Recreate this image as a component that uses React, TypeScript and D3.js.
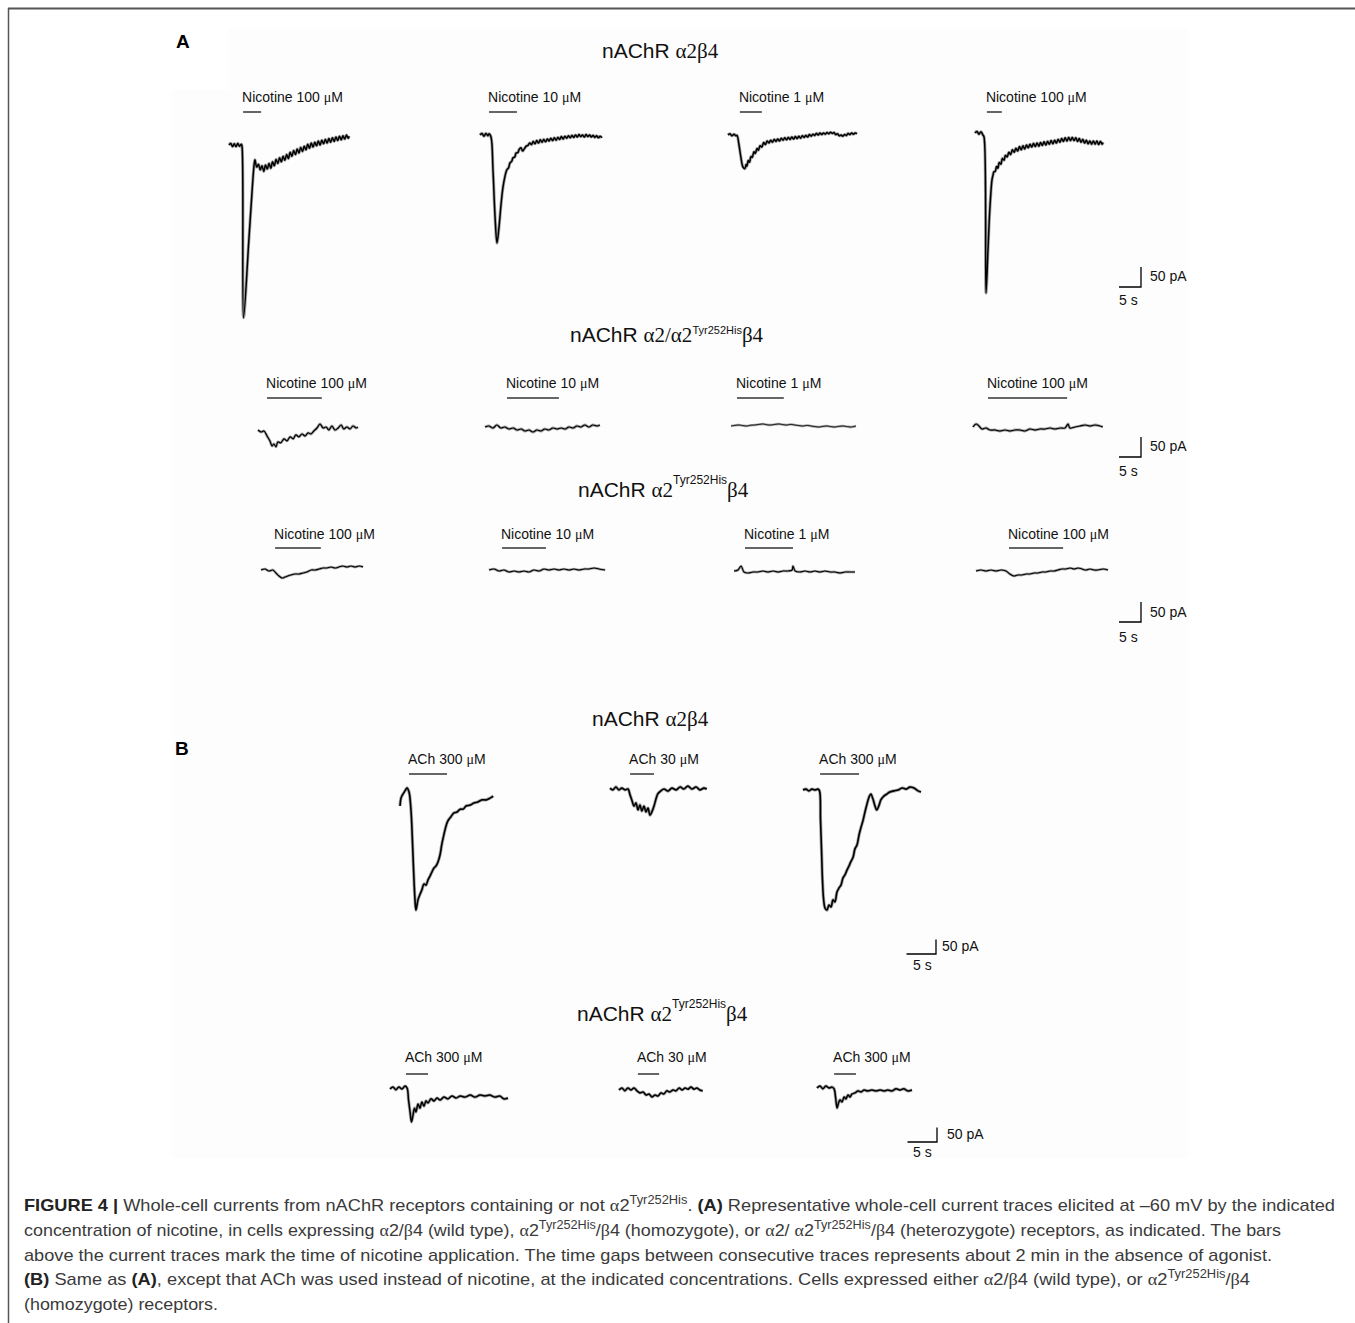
import React from 'react';
import * as d3 from 'd3';

type Pt = [number, number];

// ---------- DATA (time in s from trace start, current in pA) ----------
// Panel A, nAChR α2β4
const a1Nic100a: Pt[] = [[0,0],[0.4,4],[0.8,-4],[1.2,3],[1.6,-4],[2.0,4],[2.4,-3],[2.8,2],[2.95,-2],[3.3,-432],[4.5,-240],[5.4,-90],[5.75,-45],[5.9,-37],[6.3,-55],[6.7,-48],[7.1,-62],[7.5,-52],[7.9,-66],[8.3,-50],[8.7,-60],[9.1,-46],[9.5,-58],[9.9,-42],[10.3,-52],[10.7,-36],[11.1,-46],[11.5,-32],[11.9,-42],[12.3,-28],[12.7,-38],[13.1,-24],[13.5,-34],[13.9,-18],[14.3,-28],[14.7,-14],[15.1,-24],[15.5,-10],[15.9,-20],[16.3,-6],[16.7,-16],[17.1,-3],[17.5,-12],[17.9,2],[18.3,-8],[18.7,5],[19.1,-5],[19.5,7],[19.9,-2],[20.3,10],[20.7,0],[21.1,12],[21.5,3],[21.9,14],[22.3,5],[22.7,16],[23.1,7],[23.5,18],[23.9,9],[24.3,20],[24.7,11],[25.1,22],[25.5,13],[25.9,23],[26.3,15],[26.7,25],[27.1,17],[27.3,22]];
const a1Nic10: Pt[] = [[0,0],[0.45,4],[0.9,-3],[1.35,4],[1.8,-2],[2.05,3],[2.5,-5],[2.95,-87],[3.4,-200],[3.86,-270],[4.3,-232],[4.77,-175],[5.2,-132],[5.7,-102],[6.1,-87],[6.5,-82],[6.8,-70],[7.2,-66],[7.5,-57],[7.9,-55],[8.2,-45],[8.6,-44],[8.9,-36],[9.3,-32],[9.7,-40],[10.1,-34],[10.5,-28],[10.9,-26],[11.3,-20],[11.7,-24],[12.1,-16],[12.5,-22],[12.9,-14],[13.3,-20],[13.7,-12],[14.1,-18],[14.5,-11],[14.9,-17],[15.3,-10],[15.7,-15],[16.1,-8],[16.5,-14],[16.9,-7],[17.3,-13],[17.7,-6],[18.1,-11],[18.5,-4],[18.9,-10],[19.3,-3],[19.7,-8],[20.1,-2],[20.5,-7],[20.9,-1],[21.3,-6],[21.7,0],[22.1,-5],[22.5,1],[22.9,-4],[23.3,0],[23.7,-5],[24.1,1],[24.5,-4],[24.9,0],[25.3,-5],[25.7,-1],[26.1,-6],[26.5,-2],[26.9,-7],[27.3,-3],[27.7,-7]];
const a1Nic1: Pt[] = [[0,0],[0.45,3],[0.9,-2],[1.36,2],[1.8,-2],[2.05,-1],[2.5,-25],[2.95,-57],[3.4,-80],[3.86,-84],[4.1,-74],[4.3,-78],[4.6,-64],[4.9,-68],[5.2,-54],[5.5,-56],[5.9,-42],[6.2,-46],[6.6,-34],[6.9,-38],[7.3,-27],[7.7,-30],[8.1,-19],[8.5,-24],[8.9,-15],[9.3,-20],[9.7,-13],[10.1,-18],[10.5,-11],[10.9,-16],[11.3,-10],[11.7,-15],[12.1,-8],[12.5,-13],[12.9,-7],[13.3,-12],[13.7,-6],[14.1,-11],[14.5,-5],[14.9,-10],[15.3,-4],[15.7,-9],[16.1,-3],[16.5,-8],[16.9,-2],[17.3,-6],[17.7,-1],[18.1,-5],[18.5,1],[18.9,-3],[19.3,2],[19.7,-1],[20.1,4],[20.5,0],[20.9,5],[21.3,1],[21.7,5],[22.1,2],[22.5,6],[22.9,3],[23.3,7],[23.7,4],[24.1,6],[24.5,1],[24.9,3],[25.3,-2],[25.7,0],[26.1,-3],[26.5,1],[26.9,-1],[27.3,4],[27.7,1],[28.1,5],[28.5,2],[28.9,5],[29.3,3]];
const a1Nic100b: Pt[] = [[0,0],[0.45,4],[0.9,-3],[1.36,3],[1.8,-5],[2.05,-10],[2.5,-400],[2.95,-292],[3.4,-185],[3.86,-117],[4.1,-105],[4.3,-97],[4.6,-96],[4.9,-84],[5.2,-88],[5.5,-74],[5.9,-78],[6.2,-64],[6.6,-68],[6.9,-56],[7.3,-60],[7.7,-48],[8.1,-54],[8.5,-42],[8.9,-48],[9.3,-38],[9.7,-45],[10.1,-34],[10.5,-42],[10.9,-32],[11.3,-40],[11.7,-30],[12.1,-37],[12.5,-28],[12.9,-35],[13.3,-26],[13.7,-34],[14.1,-25],[14.5,-33],[14.9,-24],[15.3,-31],[15.7,-22],[16.1,-30],[16.5,-21],[16.9,-28],[17.3,-19],[17.7,-27],[18.1,-18],[18.5,-25],[18.9,-16],[19.3,-23],[19.7,-14],[20.1,-21],[20.5,-12],[20.9,-20],[21.3,-11],[21.7,-19],[22.1,-11],[22.5,-19],[22.9,-12],[23.3,-21],[23.7,-14],[24.1,-23],[24.5,-16],[24.9,-25],[25.3,-18],[25.7,-27],[26.1,-20],[26.5,-28],[26.9,-20],[27.3,-28],[27.7,-20],[28.1,-29],[28.5,-21],[28.9,-28],[29.1,-24]];

// Panel A, nAChR α2/α2Tyr252His β4
const a2Nic100a: Pt[] = [[0,0],[0.7,-5],[1.36,-2.5],[2.05,-15],[2.7,-27],[3.2,-40],[3.6,-35],[4.1,-42],[4.5,-30],[5.2,-32],[5.9,-22],[6.6,-27],[7.3,-17],[8.0,-22],[8.6,-12],[9.3,-17],[10.0,-10],[10.7,-15],[11.4,-7],[12.0,-10],[12.7,-2.5],[13.4,5],[14.1,15],[14.8,5],[15.5,7.5],[16.1,0],[16.8,10],[17.5,0],[18.2,5],[18.9,12.5],[19.5,2.5],[20.2,7.5],[20.9,2.5],[21.6,10],[22.3,5],[22.7,7.5]];
const a2Nic10: Pt[] = [[0,0],[0.9,2.5],[1.8,-2.5],[2.7,5],[3.6,-2.5],[4.5,0],[5.45,-5],[6.4,-2.5],[7.3,-7.5],[8.2,-5],[9.1,-10],[10.0,-7.5],[10.9,-12.5],[11.8,-7.5],[12.7,-10],[13.6,-5],[14.5,-7.5],[15.45,-2.5],[16.4,-5],[17.3,-2.5],[18.2,-5],[19.1,0],[20.0,-2.5],[20.9,2.5],[21.8,0],[22.7,5],[23.6,0],[24.5,5],[25.5,2.5],[26.1,5]];
const a2Nic1: Pt[] = [[0,0],[0.9,1.5],[1.8,2.5],[2.7,1],[3.6,0],[4.5,2],[5.45,2.5],[6.4,4],[7.3,5],[8.2,3],[9.1,2.5],[10.0,4],[10.9,5],[11.8,3.5],[12.7,2.5],[13.6,4],[14.5,2.5],[15.45,1],[16.4,0],[17.3,1.5],[18.2,0],[19.1,-1.5],[20,-2.5],[20.9,-1],[21.8,0],[22.7,-1.5],[23.6,-2.5],[24.5,-1],[25.5,0],[26.4,-1.5],[27.3,-2.5],[28.4,0]];
const a2Nic100b: Pt[] = [[0,0],[0.7,7.5],[1.36,2.5],[2.05,-5],[2.95,-2.5],[3.86,-7.5],[5,-7.5],[6.1,-10],[7.3,-7.5],[8.4,-10],[9.5,-7.5],[10.7,-7.5],[11.8,-10],[12.95,-5],[14.1,-7.5],[15.2,-5],[16.4,-5],[17.5,-2.5],[18.6,-5],[19.8,-2.5],[20.9,-2.5],[21.6,7.5],[22,-2.5],[23.2,0],[24.3,2.5],[25.5,5],[26.6,2.5],[27.7,5],[28.9,2.5],[29.5,0]];

// Panel A, nAChR α2Tyr252His β4
const a3Nic100a: Pt[] = [[0,0],[0.9,2.5],[1.8,-2.5],[2.7,0],[3.4,-7.5],[4.1,-15],[4.8,-20],[5.45,-17.5],[6.1,-15],[6.8,-12.5],[7.7,-10],[8.6,-10],[9.5,-7.5],[10.45,-5],[11.4,0],[12.3,0],[13.2,2.5],[14.1,5],[15,5],[15.9,7.5],[16.8,5],[17.7,7.5],[18.6,10],[19.5,7.5],[20.45,10],[21.4,7.5],[22.3,10],[23.2,7.5]];
const a3Nic10: Pt[] = [[0,0],[1.14,2.5],[2.27,-2.5],[3.4,0],[4.55,-5],[5.7,-2.5],[6.8,-5],[7.95,-2.5],[9.1,-5],[10.2,0],[11.4,-2.5],[12.5,2.5],[13.6,0],[14.8,2.5],[15.9,0],[17,2.5],[18.2,0],[19.3,2.5],[20.45,0],[21.6,2.5],[22.7,2.5],[23.9,5],[25,2.5],[26.4,0]];
const a3Nic1: Pt[] = [[0,0],[0.9,2.5],[1.6,12.5],[2.27,-2.5],[3.2,-5],[4.3,-2.5],[5.45,-2.5],[6.6,0],[7.7,-2.5],[8.9,0],[10,-2.5],[11.1,0],[12.3,0],[13.2,2.5],[13.4,12.5],[13.9,0],[15,-2.5],[16.1,0],[17.3,-2.5],[18.4,0],[19.5,-2.5],[20.7,0],[21.8,-2.5],[22.95,-2.5],[24.1,-5],[25.2,-2.5],[26.4,-2.5],[27.5,-2.5]];
const a3Nic100b: Pt[] = [[0,0],[1.14,2.5],[2.27,0],[3.4,2.5],[4.55,0],[5.7,2.5],[6.8,0],[7.7,-7.5],[8.6,-12.5],[9.5,-10],[10.45,-10],[11.4,-7.5],[12.3,-7.5],[13.2,-5],[14.1,-5],[15,-2.5],[15.9,-2.5],[16.8,0],[17.7,0],[18.6,2.5],[19.5,5],[20.45,5],[21.4,7.5],[22.3,5],[23.2,7.5],[24.1,5],[25,2.5],[25.9,5],[26.8,2.5],[27.7,2.5],[28.9,5],[30,2.5]];

// Panel B, nAChR α2β4 (ACh)
const b1Ach300a: Pt[] = [[0,-55],[0.17,-28],[0.5,-14],[0.85,-3],[1.19,7],[1.53,-7],[1.86,-69],[2.1,-172],[2.3,-276],[2.54,-379],[2.7,-414],[2.88,-397],[3.05,-379],[3.4,-359],[3.7,-345],[4.07,-324],[4.4,-328],[4.75,-310],[5.08,-297],[5.4,-283],[5.76,-269],[6.1,-262],[6.44,-248],[6.78,-224],[7.1,-186],[7.46,-152],[7.8,-124],[8.1,-107],[8.6,-93],[9.15,-79],[9.66,-76],[10.2,-66],[10.7,-66],[11.2,-55],[11.9,-52],[12.5,-45],[13.2,-41],[13.9,-34],[14.6,-34],[15.25,-28],[15.8,-21]];
const b1Ach30: Pt[] = [[0,3],[0.5,-3],[1.0,7],[1.5,-3],[2.0,3],[2.54,-3],[3.05,0],[3.4,-21],[3.7,-38],[4.07,-59],[4.4,-48],[4.75,-72],[5.08,-55],[5.4,-76],[5.76,-59],[6.1,-79],[6.44,-66],[6.78,-90],[7.1,-79],[7.46,-59],[7.8,-34],[8.1,-17],[8.6,-7],[9.15,0],[9.8,-7],[10.5,3],[11.2,-3],[11.9,7],[12.5,0],[13.2,10],[13.9,0],[14.6,7],[15.25,-3],[15.9,3],[16.4,0]];
const b1Ach300b: Pt[] = [[0,0],[0.5,3],[1.0,-3],[1.5,3],[2.03,0],[2.54,3],[2.8,-3],[2.97,-103],[3.14,-207],[3.3,-310],[3.5,-379],[3.73,-407],[4.07,-414],[4.4,-397],[4.75,-403],[5.08,-379],[5.4,-386],[5.76,-352],[6.1,-338],[6.44,-328],[6.78,-303],[7.1,-293],[7.46,-276],[7.8,-262],[8.1,-248],[8.5,-231],[8.8,-203],[9.15,-190],[9.5,-155],[9.8,-131],[10.2,-103],[10.5,-76],[10.85,-48],[11.2,-24],[11.5,-14],[11.9,-34],[12.2,-55],[12.5,-69],[12.9,-52],[13.2,-34],[13.7,-21],[14.2,-14],[14.7,-7],[15.4,-3],[16.1,0],[16.8,7],[17.5,3],[18.1,10],[18.8,7],[19.5,-3],[20.0,-7]];

// Panel B, nAChR α2Tyr252His β4 (ACh)
const b2Ach300a: Pt[] = [[0,0],[0.5,7],[1.0,-3],[1.5,7],[2.03,0],[2.54,10],[2.9,3],[3.14,-38],[3.4,-79],[3.64,-114],[3.9,-90],[4.15,-66],[4.4,-79],[4.75,-52],[5.08,-66],[5.4,-45],[5.76,-59],[6.1,-41],[6.44,-48],[6.95,-34],[7.46,-41],[7.97,-31],[8.5,-38],[9.15,-28],[9.8,-34],[10.5,-24],[11.2,-31],[11.9,-24],[12.7,-28],[13.6,-21],[14.4,-28],[15.25,-21],[16.1,-24],[16.9,-21],[17.8,-28],[18.6,-24],[19.3,-34],[20.0,-31]];
const b2Ach30: Pt[] = [[0,0],[0.5,7],[1.0,-3],[1.5,7],[2.03,0],[2.54,7],[3.05,-3],[3.56,-10],[4.07,-7],[4.6,-17],[5.08,-14],[5.6,-24],[6.1,-17],[6.6,-21],[7.1,-10],[7.6,-14],[8.1,-3],[8.6,-7],[9.15,0],[9.66,-3],[10.2,7],[10.7,0],[11.2,7],[11.7,3],[12.2,10],[12.7,3],[13.2,7],[13.7,0],[14.2,-3]];
const b2Ach300b: Pt[] = [[0,0],[0.5,7],[1.0,-3],[1.5,7],[2.03,0],[2.54,3],[2.9,-3],[3.14,-31],[3.4,-69],[3.64,-52],[3.9,-41],[4.24,-48],[4.6,-31],[4.9,-38],[5.25,-24],[5.6,-31],[5.9,-21],[6.44,-17],[6.95,-10],[7.46,-14],[7.97,-7],[8.6,-10],[9.3,-7],[10,-10],[10.7,-7],[11.4,-10],[12.0,-7],[12.7,-10],[13.4,-3],[14.1,-7],[14.7,-3],[15.4,-10],[16.1,-7]];

// application bars (s, relative to trace start)
const barsA1: Pt[] = [[3.2,7.3],[2.05,8.4],[2.7,7.7],[2.7,6.1]];
const barsA2: Pt[] = [[2.05,14.5],[5,16.8],[1.36,12],[3.4,21.4]];
const barsA3: Pt[] = [[3.2,13.6],[2.95,12.95],[2.5,13.4],[7.5,19.8]];
const barsB1: Pt[] = [[1.53,7.97],[3.4,7.46],[2.9,9.5]];
const barsB2: Pt[] = [[2.7,6.44],[3.2,6.8],[2.9,6.6]];

// labels
const nicLabels = ['Nicotine 100 ', 'Nicotine 10 ', 'Nicotine 1 ', 'Nicotine 100 '];
const achLabels = ['ACh 300 ', 'ACh 30 ', 'ACh 300 '];
const scaleBarTime = 5; // s
const scaleBarCurrent = 50; // pA

// ---------- LAYOUT ----------
const SANS = 'Liberation Sans, Arial, Helvetica, sans-serif';
const SERIF = 'Liberation Serif, Times New Roman, serif';

interface Row {
  traces: Pt[][];
  bars: Pt[];
  labels: string[];
  origins: Pt[];
  perSec: number;
  perPA: number;
  barY: number;
  labelY: number;
  sw: number[];
  corner: Pt;
  pa: Pt;
  sec: Pt;
}

const rows: Row[] = [
  { traces: [a1Nic100a, a1Nic10, a1Nic1, a1Nic100b], bars: barsA1, labels: nicLabels,
    origins: [[229,145],[480,135],[728,135],[975,133]], perSec: 4.4, perPA: 0.4, barY: 112, labelY: 102,
    sw: [1.5,1.5,1.5,1.5], corner: [1141,287], pa: [9,-6], sec: [-22,18] },
  { traces: [a2Nic100a, a2Nic10, a2Nic1, a2Nic100b], bars: barsA2, labels: nicLabels,
    origins: [[258,430],[485,427],[731,426],[973,427]], perSec: 4.4, perPA: 0.4, barY: 398, labelY: 388,
    sw: [1.2,1.2,0.8,1.2], corner: [1141,457], pa: [9,-6], sec: [-22,19] },
  { traces: [a3Nic100a, a3Nic10, a3Nic1, a3Nic100b], bars: barsA3, labels: nicLabels,
    origins: [[261,570],[489,570],[734,571],[976,571]], perSec: 4.4, perPA: 0.4, barY: 548, labelY: 539,
    sw: [1.1,1.1,1.1,1.1], corner: [1141,622], pa: [9,-5], sec: [-22,20] },
  { traces: [b1Ach300a, b1Ach30, b1Ach300b], bars: barsB1, labels: achLabels,
    origins: [[400,790],[610,789],[803,790]], perSec: 5.9, perPA: 0.29, barY: 774, labelY: 764,
    sw: [1.6,1.6,1.6], corner: [936,954], pa: [6,-3], sec: [-23,16] },
  { traces: [b2Ach300a, b2Ach30, b2Ach300b], bars: barsB2, labels: achLabels,
    origins: [[390,1089],[619,1090],[817,1088]], perSec: 5.9, perPA: 0.29, barY: 1074, labelY: 1062,
    sw: [1.5,1.5,1.5], corner: [937,1142], pa: [10,-3], sec: [-24,15] },
];

type Seg = { s: string; k?: 'b' | 'g' | 'sup' };
const captionLines: { segs: Seg[]; w: number }[] = [
  { w: 1311, segs: [{ s: 'FIGURE 4 | ', k: 'b' }, { s: 'Whole-cell currents from nAChR receptors containing or not ' }, { s: 'α', k: 'g' }, { s: '2' }, { s: 'Tyr252His', k: 'sup' }, { s: '. ' }, { s: '(A)', k: 'b' }, { s: ' Representative whole-cell current traces elicited at –60 mV by the indicated' }] },
  { w: 1257, segs: [{ s: 'concentration of nicotine, in cells expressing ' }, { s: 'α', k: 'g' }, { s: '2/' }, { s: 'β', k: 'g' }, { s: '4 (wild type), ' }, { s: 'α', k: 'g' }, { s: '2' }, { s: 'Tyr252His', k: 'sup' }, { s: '/' }, { s: 'β', k: 'g' }, { s: '4 (homozygote), or ' }, { s: 'α', k: 'g' }, { s: '2/ ' }, { s: 'α', k: 'g' }, { s: '2' }, { s: 'Tyr252His', k: 'sup' }, { s: '/' }, { s: 'β', k: 'g' }, { s: '4 (heterozygote) receptors, as indicated. The bars' }] },
  { w: 1248, segs: [{ s: 'above the current traces mark the time of nicotine application. The time gaps between consecutive traces represents about 2 min in the absence of agonist.' }] },
  { w: 1226, segs: [{ s: '(B)', k: 'b' }, { s: ' Same as ' }, { s: '(A)', k: 'b' }, { s: ', except that ACh was used instead of nicotine, at the indicated concentrations. Cells expressed either ' }, { s: 'α', k: 'g' }, { s: '2/' }, { s: 'β', k: 'g' }, { s: '4 (wild type), or ' }, { s: 'α', k: 'g' }, { s: '2' }, { s: 'Tyr252His', k: 'sup' }, { s: '/' }, { s: 'β', k: 'g' }, { s: '4' }] },
  { w: 194, segs: [{ s: '(homozygote) receptors.' }] },
];
const captionBaselines = [1211, 1236, 1261, 1285, 1310];

function renderSegs(segs: Seg[], supSize: number, supDy: number) {
  let pendingDy = 0;
  return segs.map((g, i) => {
    const dyBack = pendingDy;
    pendingDy = 0;
    if (g.k === 'sup') {
      pendingDy = supDy;
      return <tspan key={i} dy={-supDy + dyBack} fontSize={supSize}>{g.s}</tspan>;
    }
    const props: any = { key: i };
    if (dyBack) props.dy = dyBack;
    if (g.k === 'b') { props.fontWeight = 'bold'; props.fill = '#222'; }
    if (g.k === 'g') props.fontFamily = SERIF;
    return <tspan {...props}>{g.s}</tspan>;
  });
}

function Title({ x, y, pre, sup, post, supDy, supSize }: { x: number; y: number; pre: string; sup?: string; post?: string; supDy?: number; supSize?: number }) {
  return (
    <text x={x} y={y} fontFamily={SANS} fontSize={21} fill="#111">
      nAChR <tspan fontFamily={SERIF}>{pre}</tspan>
      {sup && <tspan dy={-(supDy || 8)} fontSize={supSize || 11}>{sup}</tspan>}
      {post && <tspan dy={sup ? (supDy || 8) : 0} fontFamily={SERIF}>{post}</tspan>}
    </text>
  );
}

function RowView({ row }: { row: Row }) {
  const yScale = (by: number) => d3.scaleLinear().domain([0, -100]).range([by, by + 100 * row.perPA]);
  const xScale = (ox: number) => d3.scaleLinear().domain([0, 10]).range([ox, ox + 10 * row.perSec]);
  const [cx, cy] = row.corner;
  const sbX = d3.scaleLinear().domain([0, scaleBarTime]).range([cx - scaleBarTime * row.perSec, cx]);
  const sbY = d3.scaleLinear().domain([0, scaleBarCurrent]).range([cy, cy - scaleBarCurrent * row.perPA]);
  return (
    <g>
      {row.traces.map((data, i) => {
        const [ox, by] = row.origins[i];
        const xs = xScale(ox);
        const ys = yScale(by);
        const line = d3.line<Pt>().x(d => xs(d[0])).y(d => ys(d[1])).curve(d3.curveCatmullRom.alpha(0.5));
        const [b0, b1] = row.bars[i];
        const d = line(data) || '';
        return (
          <g key={i}>
            <text x={xs(b0) - 1} y={row.labelY} fontFamily={SANS} fontSize={14} fill="#111">
              {row.labels[i]}<tspan fontFamily={SERIF}>μ</tspan>M
            </text>
            <line x1={xs(b0)} x2={xs(b1)} y1={row.barY} y2={row.barY} stroke="#333" strokeWidth={1.5} />
            <path d={d} fill="none" stroke="#333" strokeOpacity={0.45} strokeWidth={row.sw[i] + 1.6} strokeLinejoin="round" />
            <path d={d} fill="none" stroke="#000" strokeWidth={row.sw[i]} strokeLinejoin="round" />
          </g>
        );
      })}
      <path d={`M${sbX(0)},${sbY(0)}H${sbX(scaleBarTime)}V${sbY(scaleBarCurrent)}`} fill="none" stroke="#000" strokeWidth={1.3} />
      <text x={cx + row.pa[0]} y={cy + row.pa[1]} fontFamily={SANS} fontSize={14} fill="#111">50 pA</text>
      <text x={cx + row.sec[0]} y={cy + row.sec[1]} fontFamily={SANS} fontSize={14} fill="#111">5 s</text>
    </g>
  );
}

export default function App() {
  return (
    <svg width={1355} height={1323} style={{ position: 'absolute', left: 0, top: 0, background: '#fff' }}>
      <rect x={0} y={0} width={1355} height={1323} fill="#fff" />
      <rect x={228} y={28} width={960} height={62} fill="#fdfdfd" />
      <rect x={172} y={90} width={1016} height={1068} fill="#fdfdfd" />
      <line x1={8} x2={1355} y1={8.5} y2={8.5} stroke="#555" strokeWidth={2} />
      <line x1={8.5} x2={8.5} y1={8} y2={1323} stroke="#555" strokeWidth={1.5} />

      <text x={176} y={48} fontFamily={SANS} fontWeight="bold" fontSize={19}>A</text>
      <text x={175} y={755} fontFamily={SANS} fontWeight="bold" fontSize={19}>B</text>

      <Title x={602} y={58} pre="α2β4" />
      <Title x={570} y={342} pre="α2/α2" sup="Tyr252His" post="β4" supDy={8} supSize={11} />
      <Title x={578} y={497} pre="α2" sup="Tyr252His" post="β4" supDy={13} supSize={12} />
      <Title x={592} y={726} pre="α2β4" />
      <Title x={577} y={1021} pre="α2" sup="Tyr252His" post="β4" supDy={13} supSize={12} />

      {rows.map((r, i) => <RowView key={i} row={r} />)}

      {captionLines.map((l, i) => (
        <text key={i} x={24} y={captionBaselines[i]} fontFamily={SANS} fontSize={17} fill="#3a3a3a"
          textLength={l.w} lengthAdjust="spacingAndGlyphs">
          {renderSegs(l.segs, 12, 7)}
        </text>
      ))}
    </svg>
  );
}
